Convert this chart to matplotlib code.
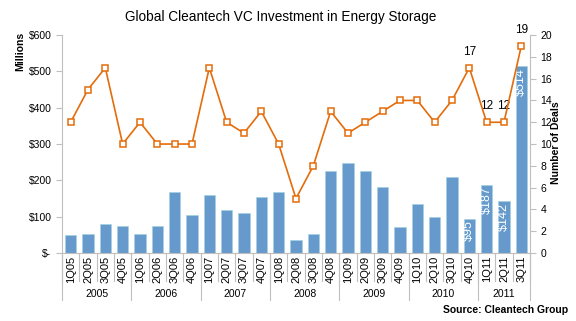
import matplotlib
matplotlib.use("Agg")
import matplotlib.pyplot as plt
from matplotlib.ticker import FixedLocator, FuncFormatter

plt.rcParams['font.family'] = ['Liberation Sans', 'DejaVu Sans']

quarters = ["1Q05", "2Q05", "3Q05", "4Q05",
            "1Q06", "2Q06", "3Q06", "4Q06",
            "1Q07", "2Q07", "3Q07", "4Q07",
            "1Q08", "2Q08", "3Q08", "4Q08",
            "1Q09", "2Q09", "3Q09", "4Q09",
            "1Q10", "2Q10", "3Q10", "4Q10",
            "1Q11", "2Q11", "3Q11"]
years = ["2005", "2006", "2007", "2008", "2009", "2010", "2011"]
quarters_per_year = [4, 4, 4, 4, 4, 4, 3]

investment = [50, 51, 80, 74,
              51, 74, 169, 106,
              161, 118, 110, 155,
              167, 36, 53, 227,
              248, 225, 182, 71,
              136, 100, 209, 95,
              187, 142, 514]
deals = [12, 15, 17, 10,
         12, 10, 10, 10,
         17, 12, 11, 13,
         10, 5, 8, 13,
         11, 12, 13, 14,
         14, 12, 14, 17,
         12, 12, 19]

labelled_bars = ["4Q10", "1Q11", "2Q11", "3Q11"]
labelled_points = ["4Q10", "1Q11", "2Q11", "3Q11"]

bar_color = "#6699CC"
line_color = "#E46C0A"
axis_gray = "#BFBFBF"

fig = plt.figure(figsize=(5.76, 3.21), dpi=100)
ax = fig.add_axes([0.1076, 0.2118, 0.8125, 0.679])
ax2 = ax.twinx()

x = list(range(len(quarters)))
ax.bar(x, investment, width=0.64, color=bar_color, edgecolor="#9DD3E0",
       linewidth=0.4, zorder=2)

for i, q in enumerate(quarters):
    if q in labelled_bars:
        v = investment[i]
        ax.text(i, v - 4, f"${v}", rotation=90, ha="center", va="top",
                color="white", fontsize=9, zorder=3)

ax2.plot(x, deals, color=line_color, lw=1.2, marker="s", ms=5,
         mfc="white", mec=line_color, mew=1.1, zorder=4)
for i, q in enumerate(quarters):
    if q in labelled_points:
        ax2.text(i, deals[i] + 0.9, str(deals[i]), ha="center", va="bottom",
                 fontsize=8.5, color="black")

ax.set_xlim(-0.5, len(quarters) - 0.5)
ax.set_ylim(0, 600)
ax2.set_ylim(0, 20)
ax.set_zorder(ax2.get_zorder() - 1)
ax.patch.set_visible(False)
ax2.patch.set_visible(False)

ax.yaxis.set_major_locator(FixedLocator([0, 100, 200, 300, 400, 500, 600]))
ax.yaxis.set_major_formatter(FuncFormatter(lambda v, p: "$-" if v == 0 else f"${int(v)}"))
ax2.yaxis.set_major_locator(FixedLocator(list(range(0, 21, 2))))

for a in (ax, ax2):
    a.spines["top"].set_visible(False)
    a.spines["left"].set_color(axis_gray)
    a.spines["right"].set_color(axis_gray)
    a.spines["bottom"].set_color(axis_gray)
    a.tick_params(axis="y", colors=axis_gray, labelcolor="black",
                  labelsize=7.5, length=4, width=0.8)
ax.spines["right"].set_visible(False)
ax2.spines["left"].set_visible(False)
ax2.spines["bottom"].set_visible(False)

ax.set_xticks([])
ax.tick_params(axis="x", length=0)

# two-level category axis: quarters then years
trans = ax.get_xaxis_transform()
for i, q in enumerate(quarters):
    ax.text(i, -0.012, q, rotation=90, ha="center", va="top",
            fontsize=8, transform=trans, clip_on=False)
for i in range(len(quarters) + 1):
    ax.plot([i - 0.5, i - 0.5], [0, -0.13], transform=trans, color=axis_gray,
            lw=0.8, clip_on=False)
start = 0
for y, n in zip(years, quarters_per_year):
    ax.text(start + n / 2 - 0.5, -0.19, y, ha="center", va="center",
            fontsize=7.5, transform=trans, clip_on=False)
    start += n
bounds = [0]
for n in quarters_per_year:
    bounds.append(bounds[-1] + n)
for b in bounds:
    ax.plot([b - 0.5, b - 0.5], [0, -0.215], transform=trans, color=axis_gray,
            lw=0.8, clip_on=False)

fig.text(0.036, 0.84, "Millions", rotation=90, ha="center", va="center",
         fontsize=7.5, fontweight="bold")
fig.text(0.965, 0.555, "Number of Deals", rotation=90, ha="center",
         va="center", fontsize=7.5, fontweight="bold")
fig.text(0.488, 0.947, "Global Cleantech VC Investment in Energy Storage",
         ha="center", va="center", fontsize=9.8)
fig.text(0.986, 0.034, "Source: Cleantech Group", ha="right", va="center",
         fontsize=7.5, fontweight="bold")

fig.savefig("out.png", dpi=100)
